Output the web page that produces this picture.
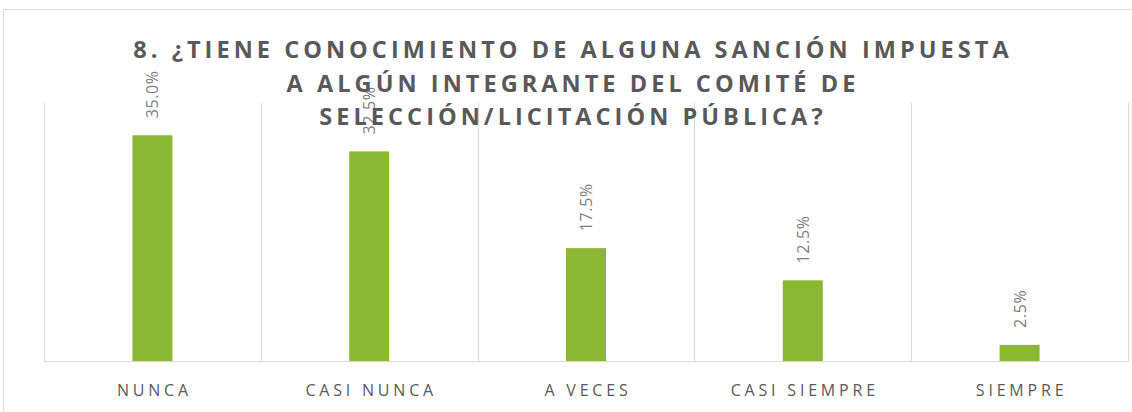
<!DOCTYPE html>
<html>
<head>
<meta charset="utf-8">
<script src="https://cdn.jsdelivr.net/npm/d3@7"></script>
<style>
  body { margin: 0; background: #fff; }
  text { font-family: "Open Sans", sans-serif; }
</style>
</head>
<body>
<script>
"use strict";

const categories = ["NUNCA", "CASI NUNCA", "A VECES", "CASI SIEMPRE", "SIEMPRE"];
const values = [35.0, 32.5, 17.5, 12.5, 2.5];
const titleLines = [
  "8. ¿TIENE CONOCIMIENTO DE ALGUNA SANCIÓN IMPUESTA",
  "A ALGÚN INTEGRANTE DEL COMITÉ DE",
  "SELECCIÓN/LICITACIÓN PÚBLICA?"
];

const width = 1132;
const height = 412;

let svg = d3
  .select("body")
  .append("svg")
  .attr("width", width)
  .attr("height", height);

// outer chart border
svg
  .append("rect")
  .attr("x", 3.5)
  .attr("y", 9.5)
  .attr("width", 1140)
  .attr("height", 420)
  .attr("fill", "none")
  .attr("stroke", "#D9D9D9");

const plotLeft = 44,
  plotRight = 1128,
  plotTop = 103,
  plotBottom = 361;

let x = d3
  .scaleBand()
  .domain(categories)
  .range([plotLeft, plotRight])
  .paddingInner(0)
  .paddingOuter(0);

let y = d3
  .scaleLinear()
  .domain([0, 40])
  .range([plotBottom, plotTop]);

const barW = 40;

// vertical gridlines between categories
let grid = svg.append("g");
let edges = categories.map(c => x(c)).concat([plotRight]);
grid
  .selectAll("line")
  .data(edges)
  .enter()
  .append("line")
  .attr("x1", d => Math.round(d) + 0.5)
  .attr("x2", d => Math.round(d) + 0.5)
  .attr("y1", plotTop)
  .attr("y2", plotBottom)
  .attr("stroke", "#D9D9D9")
  .attr("stroke-width", 1);

// bars
svg
  .append("g")
  .selectAll("rect")
  .data(values)
  .enter()
  .append("rect")
  .attr("x", (d, i) => x(categories[i]) + x.bandwidth() / 2 - barW / 2)
  .attr("y", d => y(d))
  .attr("width", barW)
  .attr("height", d => y(0) - y(d))
  .attr("fill", "#8BB834");

// baseline
svg
  .append("line")
  .attr("x1", plotLeft)
  .attr("x2", plotRight + 1)
  .attr("y1", plotBottom + 0.5)
  .attr("y2", plotBottom + 0.5)
  .attr("stroke", "#D9D9D9")
  .attr("stroke-width", 1);

// category labels
svg
  .append("g")
  .selectAll("text")
  .data(categories)
  .enter()
  .append("text")
  .attr("x", d => x(d) + x.bandwidth() / 2 + 2)
  .attr("y", 396)
  .attr("text-anchor", "middle")
  .attr("fill", "#595959")
  .style("font-size", "16px")
  .style("letter-spacing", "3.8px")
  .text(d => d);

// value labels, rotated
svg
  .append("g")
  .selectAll("text")
  .data(values)
  .enter()
  .append("text")
  .attr("transform", (d, i) => {
    let cx = x(categories[i]) + x.bandwidth() / 2 + 6;
    let cy = y(d) - 17;
    return "translate(" + cx + "," + cy + ") rotate(-90)";
  })
  .attr("text-anchor", "start")
  .attr("fill", "#7F7F7F")
  .style("font-size", "16px")
  .style("letter-spacing", "0.6px")
  .text(d => d.toFixed(1) + "%");

// title
svg
  .append("g")
  .selectAll("text")
  .data(titleLines)
  .enter()
  .append("text")
  .attr("x", 573)
  .attr("y", (d, i) => 58 + i * 33.5)
  .attr("text-anchor", "middle")
  .attr("fill", "#595959")
  .style("font-size", "23.5px")
  .style("font-weight", "700")
  .style("letter-spacing", "4.05px")
  .text(d => d);
</script>
</body>
</html>
